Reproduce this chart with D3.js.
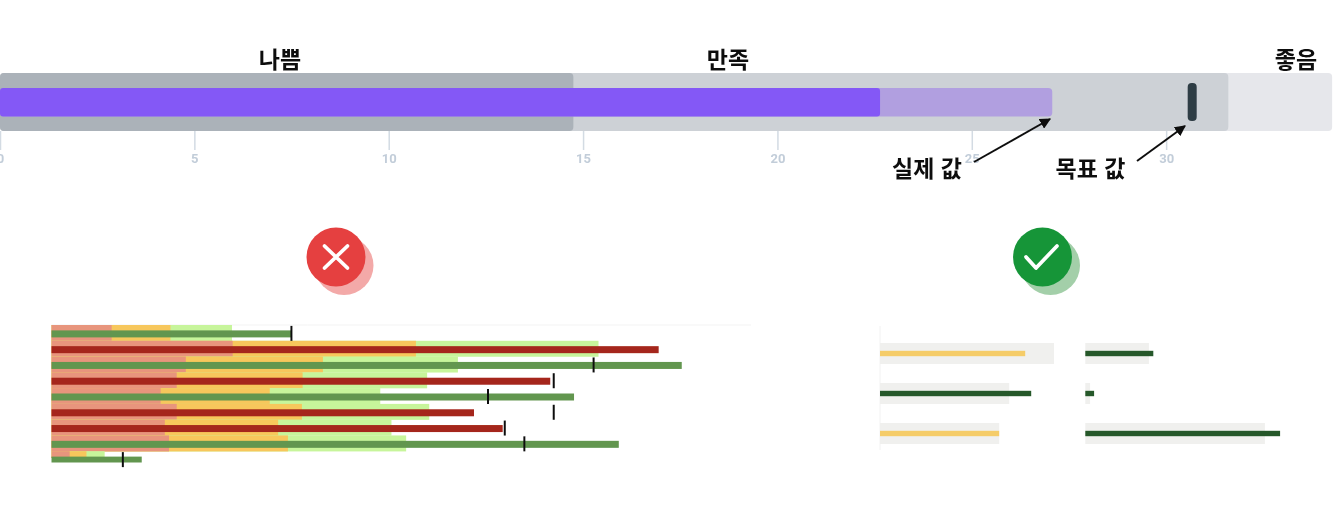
<!DOCTYPE html>
<html lang="ko">
<head>
<meta charset="utf-8">
<script src="https://cdn.jsdelivr.net/npm/d3@7"></script>
<style>
html,body{margin:0;padding:0;background:#fff;overflow:hidden}
svg{display:block}
text{font-family:"Noto Sans CJK KR","Noto Sans",sans-serif}
</style>
</head>
<body>
<svg id="chart" width="1342" height="509"></svg>
<script>
// Top example bullet
const topBandNames = ["나쁨", "만족", "좋음"];
const topBandEnds = [14.75, 31.6, 34.27];
const topActual = 27.07;
const topActualStrong = 22.64;
const topTarget = 30.67;
const topTicks = [0, 5, 10, 15, 20, 25, 30];

// Bad example: nine overloaded bullets
const badRows = ["r1","r2","r3","r4","r5","r6","r7","r8","r9"];
const badRed =    [8.6, 25.9, 19.2, 17.9, 15.6, 17.9, 16.2, 16.8, 2.6];
const badYellow = [17.0, 52.1, 38.8, 35.9, 31.2, 35.8, 32.4, 33.8, 5.0];
const badGreen =  [25.8, 78.2, 58.1, 53.7, 47.0, 54.0, 48.6, 50.7, 7.6];
const badValue =  [34.3, 86.8, 90.1, 71.3, 74.7, 60.4, 64.5, 81.1, 12.9];
const badTarget = [34.3, null, 77.5, 71.8, 62.4, 71.8, 64.8, 67.6, 10.2];
const badOnTrack = [1, 0, 1, 0, 1, 0, 0, 1, 1];

// Good example: two panels of three bullets
const goodRows = ["a", "b", "c"];
const goodLeftBand = [43.5, 32.3, 29.8];
const goodLeftValue = [36.3, 37.8, 29.8];
const goodLeftStatus = ["warn", "ok", "warn"];
const goodRightBand = [15.9, 1.2, 44.9];
const goodRightValue = [17.0, 2.2, 48.7];
const goodRightStatus = ["ok", "ok", "ok"];

const svg = d3.select("#chart");
const defs = svg.append("defs");
const blur = (id, s) => defs.append("filter").attr("id", id)
  .attr("filterUnits", "userSpaceOnUse").attr("x", -10).attr("y", -10).attr("width", 1362).attr("height", 529)
  .append("feGaussianBlur").attr("stdDeviation", s);
blur("soft", 0.6);
blur("softer", 0.5);
blur("text", 0.3);
defs.append("marker").attr("id", "head").attr("viewBox", "0 0 10 10").attr("refX", 9).attr("refY", 5)
  .attr("markerWidth", 5.5).attr("markerHeight", 5.5).attr("orient", "auto")
  .append("path").attr("d", "M0,0L10,5L0,10Z").attr("fill", "#111");
defs.append("clipPath").attr("id", "bandClip").append("rect").attr("x", 0).attr("y", 0).attr("width", 1342).attr("height", 458);
defs.append("clipPath").attr("id", "barClip").append("rect").attr("x", 0).attr("y", 0).attr("width", 1342).attr("height", 462.5);

// ---------- top bullet ----------
const xTop = d3.scaleLinear().domain([0, 35]).range([0, 1360.5]);
const gTop = svg.append("g").attr("filter", "url(#softer)");
const bandColors = ["#abb2b9", "#cdd1d6", "#e6e7eb"];
const ticksG = gTop.append("g").attr("transform", "translate(0,131)")
  .call(d3.axisBottom(xTop).tickValues(topTicks).tickSize(19).tickPadding(4));
ticksG.select(".domain").remove();
ticksG.selectAll("line").attr("stroke", "#d3dbe3").attr("stroke-width", 1.5);
ticksG.selectAll("text").attr("fill", "#c2cdd9").attr("font-size", 13).attr("font-weight", 700)
  .style("font-family", "Roboto,sans-serif");

gTop.selectAll("rect.band").data(topBandEnds.map((e, i) => ({e, i})).reverse()).join("rect")
  .attr("class", "band")
  .attr("x", xTop(0)).attr("y", 73).attr("height", 58).attr("rx", 4)
  .attr("width", d => xTop(d.e) - xTop(0))
  .attr("fill", d => bandColors[d.i]);
gTop.append("rect").attr("x", xTop(0)).attr("y", 88).attr("height", 28.5).attr("rx", 4)
  .attr("width", xTop(topActual) - xTop(0)).attr("fill", "#b19fe0");
gTop.append("rect").attr("x", xTop(0)).attr("y", 88).attr("height", 28.5).attr("rx", 3)
  .attr("width", xTop(topActualStrong) - xTop(0)).attr("fill", "#8458f6");
gTop.append("rect").attr("x", xTop(topTarget) - 4.5).attr("y", 83).attr("width", 9).attr("height", 38).attr("rx", 4)
  .attr("fill", "#2f3d45");

const gLabels = svg.append("g").attr("filter", "url(#text)");
gLabels.selectAll("text.name").data(topBandNames).join("text").attr("class", "name")
  .attr("x", (d, i) => [280, 728, 1296][i]).attr("y", 68)
  .attr("text-anchor", "middle").attr("font-size", 23).attr("font-weight", 700).attr("fill", "#111").text(d => d);
gLabels.selectAll("text.note").data(["실제 값", "목표 값"]).join("text").attr("class", "note")
  .attr("x", (d, i) => [927, 1090.5][i]).attr("y", 176.5)
  .attr("text-anchor", "middle").attr("font-size", 23).attr("font-weight", 700).attr("fill", "#111").text(d => d);
gLabels.selectAll("line.arrow").data([[974, 162, 1050, 119], [1137, 161, 1185, 126]]).join("line").attr("class", "arrow")
  .attr("x1", d => d[0]).attr("y1", d => d[1]).attr("x2", d => d[2]).attr("y2", d => d[3])
  .attr("stroke", "#111").attr("stroke-width", 2).attr("marker-end", "url(#head)");

// ---------- status icons ----------
const icons = svg.append("g").attr("filter", "url(#softer)");
function icon(cx, cy, main, shade, path) {
  icons.append("circle").attr("cx", cx + 8).attr("cy", cy + 8.5).attr("r", 29.5).attr("fill", shade);
  icons.append("circle").attr("cx", cx).attr("cy", cy).attr("r", 29.5).attr("fill", main);
  icons.append("path").attr("d", path).attr("transform", `translate(${cx},${cy})`)
    .attr("fill", "none").attr("stroke", "#fff").attr("stroke-width", 3.8).attr("stroke-linecap", "round").attr("stroke-linejoin", "round");
}
icon(336, 257, "#e53f3f", "#f3a9a8", "M-11.5,-11L11.5,11M11.5,-11L-11.5,11");
icon(1042.5, 257, "#159539", "#a3cfa9", "M-16.5,0L-6.5,11L14.5,-11");

// ---------- bad example ----------
const xBad = d3.scaleLinear().domain([0, 100]).range([51.5, 751]);
const yBad = d3.scaleBand().domain(badRows).range([326, 468]).paddingInner(0);
const gBad = svg.append("g").attr("filter", "url(#soft)");
gBad.append("line").attr("x1", xBad(0)).attr("x2", xBad(100)).attr("y1", 325).attr("y2", 325).attr("stroke", "#f3f3f3");
const bands = gBad.append("g").attr("clip-path", "url(#bandClip)");
badRows.forEach((r, i) => {
  const row = bands.append("g");
  [[badGreen[i], "#c7f59b"], [badYellow[i], "#f7c75c"], [badRed[i], "#e8957d"]].forEach(([v, c]) => {
    row.append("rect").attr("x", xBad(0)).attr("y", yBad(r) - 1).attr("height", yBad.bandwidth() + 0.2)
      .attr("width", xBad(v) - xBad(0)).attr("fill", c);
  });
});
const bars = gBad.append("g").attr("clip-path", "url(#barClip)");
bars.selectAll("rect").data(badRows).join("rect")
  .attr("x", xBad(0)).attr("y", d => yBad(d) + yBad.bandwidth() / 2 - 3.5).attr("height", 7)
  .attr("width", (d, i) => xBad(badValue[i]) - xBad(0))
  .attr("fill", (d, i) => badOnTrack[i] ? "#62964f" : "#a5261a");
gBad.append("g").selectAll("line").data(badRows.filter((d, i) => badTarget[i] !== null)).join("line")
  .attr("x1", d => xBad(badTarget[badRows.indexOf(d)])).attr("x2", d => xBad(badTarget[badRows.indexOf(d)]))
  .attr("y1", d => yBad(d) + yBad.bandwidth() / 2 - 8).attr("y2", d => yBad(d) + yBad.bandwidth() / 2 + 7)
  .attr("stroke", "#111").attr("stroke-width", 2);

// ---------- good example ----------
const yGood = d3.scalePoint().domain(goodRows).range([353.5, 433.5]);
const gGood = svg.append("g").attr("filter", "url(#soft)");
gGood.append("line").attr("x1", 880).attr("x2", 880).attr("y1", 326).attr("y2", 450).attr("stroke", "#f2f2f2");
const statusColor = {ok: "#27592a", warn: "#f5cc68"};
function panel(x0, bandVals, valueVals, status) {
  const x = d3.scaleLinear().domain([0, 50]).range([x0, x0 + 200]);
  const g = gGood.append("g");
  g.selectAll("rect.b").data(goodRows).join("rect").attr("class", "b")
    .attr("x", x(0)).attr("y", d => yGood(d) - 10.5).attr("height", 21)
    .attr("width", (d, i) => x(bandVals[i]) - x(0)).attr("fill", "#f0f0ee");
  g.selectAll("rect.v").data(goodRows).join("rect").attr("class", "v")
    .attr("x", x(0)).attr("y", d => yGood(d) - 2.7).attr("height", 5.4)
    .attr("width", (d, i) => x(valueVals[i]) - x(0)).attr("fill", (d, i) => statusColor[status[i]]);
}
panel(880, goodLeftBand, goodLeftValue, goodLeftStatus);
panel(1085.3, goodRightBand, goodRightValue, goodRightStatus);
</script>
</body>
</html>
